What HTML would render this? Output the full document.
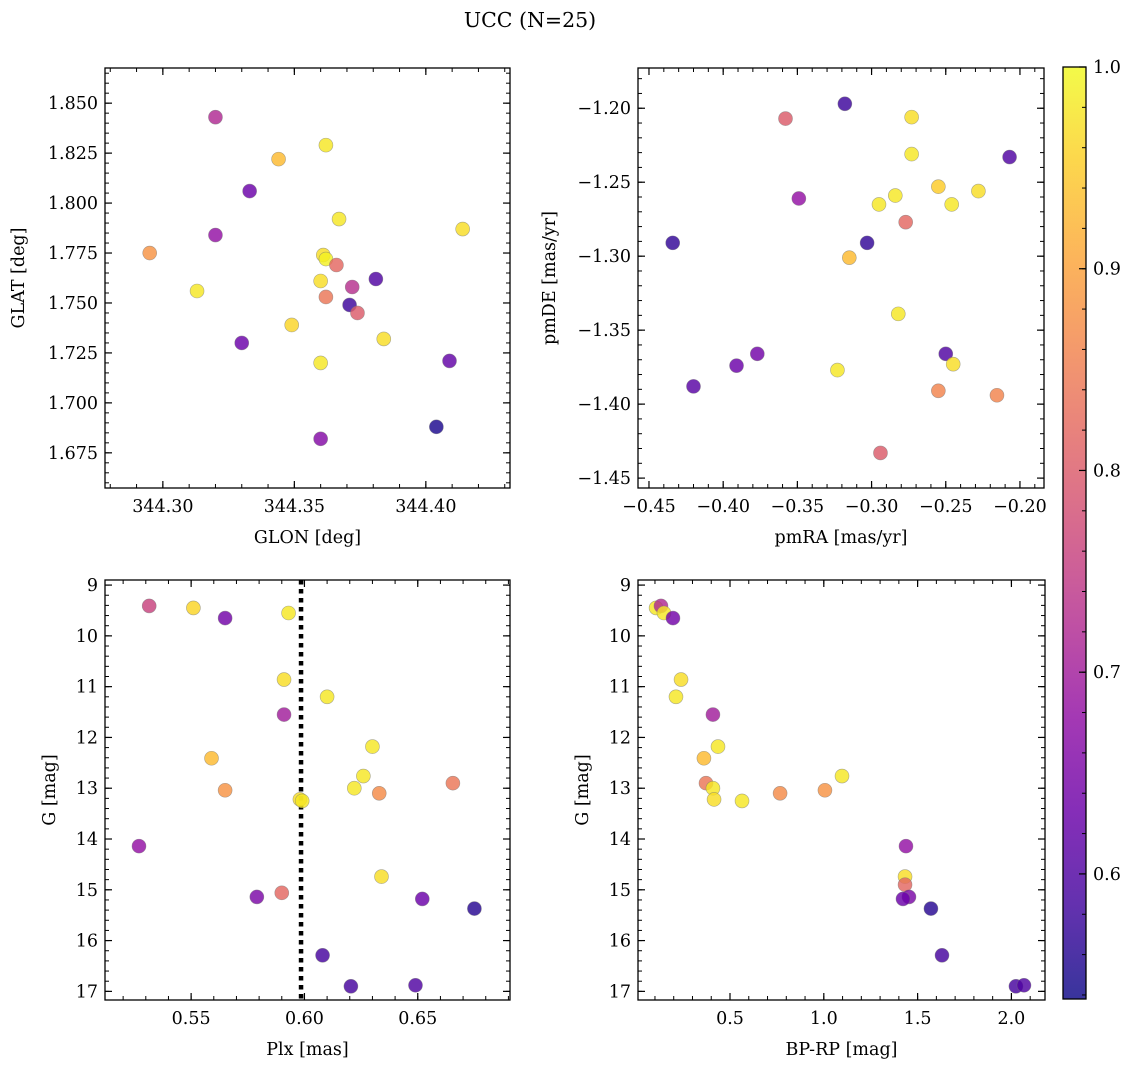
<!DOCTYPE html>
<html><head><meta charset="utf-8">
<style>
html,body{margin:0;padding:0;background:#fff;}
svg{display:block;font-family:"DejaVu Serif","Liberation Serif",serif;}
</style></head>
<body>
<svg id="fig" width="1136" height="1067" viewBox="0 0 1136 1067" xmlns="http://www.w3.org/2000/svg">
<text x="530" y="27" font-size="20.5" text-anchor="middle">UCC (N=25)</text>
</svg>
<script>
// ---- data ----
const glon = [344.320,344.344,344.362,344.333,344.320,344.367,344.414,344.295,344.361,344.362,344.366,344.313,344.360,344.381,344.362,344.372,344.371,344.374,344.349,344.384,344.330,344.409,344.360,344.404,344.360];
const glat = [1.843,1.822,1.829,1.806,1.784,1.792,1.787,1.775,1.774,1.772,1.769,1.756,1.761,1.762,1.753,1.758,1.749,1.745,1.739,1.732,1.730,1.721,1.720,1.688,1.682];
const prob1 = [0.72,0.93,0.98,0.63,0.68,0.98,0.97,0.88,0.97,0.99,0.82,0.98,0.97,0.60,0.84,0.73,0.58,0.80,0.96,0.97,0.63,0.62,0.98,0.55,0.66];

const pmra = [-0.318,-0.358,-0.273,-0.273,-0.207,-0.349,-0.284,-0.295,-0.255,-0.228,-0.246,-0.277,-0.434,-0.303,-0.315,-0.282,-0.250,-0.245,-0.377,-0.391,-0.323,-0.420,-0.255,-0.2155,-0.294];
const pmde = [-1.197,-1.207,-1.206,-1.231,-1.233,-1.261,-1.259,-1.265,-1.253,-1.256,-1.265,-1.277,-1.291,-1.291,-1.301,-1.339,-1.366,-1.373,-1.366,-1.374,-1.377,-1.388,-1.391,-1.394,-1.433];
const prob2 = [0.58,0.80,0.97,0.98,0.60,0.68,0.98,0.98,0.95,0.97,0.98,0.82,0.57,0.57,0.93,0.98,0.60,0.97,0.64,0.63,0.98,0.61,0.86,0.86,0.80];

const plx = [0.5315,0.551,0.565,0.593,0.591,0.610,0.591,0.630,0.559,0.626,0.6655,0.622,0.565,0.633,0.598,0.599,0.527,0.634,0.590,0.579,0.652,0.675,0.608,0.6205,0.649];
const gmag3 = [9.41,9.45,9.65,9.55,10.86,11.2,11.55,12.18,12.41,12.76,12.9,13.0,13.04,13.1,13.22,13.25,14.14,14.74,15.06,15.14,15.18,15.37,16.29,16.9,16.88];
const prob3 = [0.76,0.96,0.64,0.98,0.97,0.98,0.70,0.98,0.93,0.98,0.84,0.98,0.88,0.87,0.97,0.98,0.68,0.97,0.82,0.65,0.63,0.56,0.59,0.59,0.60];
const plxLine = [0.5985];

const bprp = [0.106,0.132,0.148,0.196,0.239,0.212,0.409,0.436,0.361,1.097,0.372,0.409,1.006,0.767,0.415,0.564,1.438,1.433,1.433,1.454,1.422,1.571,1.630,2.024,2.067];
const gmag4 = [9.45,9.41,9.55,9.65,10.86,11.2,11.55,12.18,12.41,12.76,12.9,13.0,13.04,13.1,13.22,13.25,14.14,14.74,14.9,15.14,15.18,15.37,16.29,16.9,16.88];
const prob4 = [0.98,0.72,0.98,0.64,0.97,0.98,0.70,0.98,0.93,0.98,0.84,0.98,0.88,0.87,0.97,0.98,0.68,0.97,0.82,0.65,0.63,0.56,0.59,0.59,0.60];

const tick1x = [344.30,344.35,344.40];
const tick1xLabels = ["344.30","344.35","344.40"];
const tick1y = [1.675,1.700,1.725,1.750,1.775,1.800,1.825,1.850];
const tick1yLabels = ["1.675","1.700","1.725","1.750","1.775","1.800","1.825","1.850"];
const tick2x = [-0.45,-0.40,-0.35,-0.30,-0.25,-0.20];
const tick2xLabels = ["\u22120.45","\u22120.40","\u22120.35","\u22120.30","\u22120.25","\u22120.20"];
const tick2y = [-1.45,-1.40,-1.35,-1.30,-1.25,-1.20];
const tick2yLabels = ["\u22121.45","\u22121.40","\u22121.35","\u22121.30","\u22121.25","\u22121.20"];
const tick3x = [0.55,0.60,0.65];
const tick3xLabels = ["0.55","0.60","0.65"];
const tickGy = [9,10,11,12,13,14,15,16,17];
const tickGyLabels = ["9","10","11","12","13","14","15","16","17"];
const tick4x = [0.5,1.0,1.5,2.0];
const tick4xLabels = ["0.5","1.0","1.5","2.0"];
const cbTicks = [0.6,0.7,0.8,0.9,1.0];
const cbTickLabels = ["0.6","0.7","0.8","0.9","1.0"];

// ---- rendering ----
const NS = "http://www.w3.org/2000/svg";
const svg = document.getElementById('fig');
const VMIN = 0.538, VMAX = 1.0;
const FS = 17.5;
const plasma = [[13,8,135],[65,4,157],[106,0,168],[143,13,164],[177,42,144],[204,71,120],[225,100,98],[242,132,75],[252,166,54],[252,206,37],[240,249,33]];
function cmap(v){
  let t = Math.max(0, Math.min(1, (v - VMIN) / (VMAX - VMIN))) * 10;
  const i = Math.min(9, Math.floor(t)); const f = t - i;
  const a = plasma[i], b = plasma[i+1];
  return 'rgb(' + [0,1,2].map(k => Math.round(a[k] + (b[k]-a[k])*f)).join(',') + ')';
}
function mk(tag, attrs, parent){
  const e = document.createElementNS(NS, tag);
  for (const k in attrs) e.setAttribute(k, attrs[k]);
  (parent || svg).appendChild(e);
  return e;
}
function panel(o){
  const g = mk('g', {});
  
  
  const sx = v => o.x0 + (v - o.xlim[0]) / (o.xlim[1] - o.xlim[0]) * (o.x1 - o.x0);
  const sy = v => o.y1 - (v - o.ylim[0]) / (o.ylim[1] - o.ylim[0]) * (o.y1 - o.y0);
  const eps = 1e-9;
  const mxs = Math.ceil(Math.min(o.xlim[0], o.xlim[1]) / o.xminor - eps);
  for (let k = mxs; k * o.xminor <= Math.max(o.xlim[0], o.xlim[1]) + eps; k++){
    const X = sx(k * o.xminor);
    mk('line', {x1:X, x2:X, y1:o.y1, y2:o.y1-4, stroke:'#000', 'stroke-width':1}, g);
    mk('line', {x1:X, x2:X, y1:o.y0, y2:o.y0+4, stroke:'#000', 'stroke-width':1}, g);
  }
  const ylo = Math.min(o.ylim[0], o.ylim[1]), yhi = Math.max(o.ylim[0], o.ylim[1]);
  for (let k = Math.ceil(ylo / o.yminor - eps); k * o.yminor <= yhi + eps; k++){
    const Y = sy(k * o.yminor);
    mk('line', {x1:o.x0, x2:o.x0+4, y1:Y, y2:Y, stroke:'#000', 'stroke-width':1}, g);
    mk('line', {x1:o.x1, x2:o.x1-4, y1:Y, y2:Y, stroke:'#000', 'stroke-width':1}, g);
  }
  o.xt.forEach((v, i) => {
    const X = sx(v);
    mk('line', {x1:X, x2:X, y1:o.y1, y2:o.y1-7, stroke:'#000', 'stroke-width':1.2}, g);
    mk('line', {x1:X, x2:X, y1:o.y0, y2:o.y0+7, stroke:'#000', 'stroke-width':1.2}, g);
    const t = mk('text', {x:X, y:o.y1+24, 'font-size':FS, 'text-anchor':'middle'}, g);
    
    
    t.textContent = o.xtl[i];
  });
  o.yt.forEach((v, i) => {
    const Y = sy(v);
    mk('line', {x1:o.x0, x2:o.x0+7, y1:Y, y2:Y, stroke:'#000', 'stroke-width':1.2}, g);
    mk('line', {x1:o.x1, x2:o.x1-7, y1:Y, y2:Y, stroke:'#000', 'stroke-width':1.2}, g);
    const t = mk('text', {x:o.x0-7, y:Y+6, 'font-size':FS, 'text-anchor':'end'}, g);
    
    
    t.textContent = o.ytl[i];
  });
  if (o.vline){
    o.vline.forEach(v => {
      const l = mk('line', {x1:sx(v), x2:sx(v), y1:o.y0, y2:o.y1, stroke:'#000', 'stroke-width':4.5, 'stroke-dasharray':'4.5 4.5'}, g);
      
      
    });
  }
  o.xs.forEach((v, i) => {
    const c = mk('circle', {cx:sx(v), cy:sy(o.ys[i]), r:7, fill:cmap(o.c[i]), 'fill-opacity':0.82, stroke:'#777', 'stroke-opacity':0.6, 'stroke-width':0.6}, g);
    
    
  });
  const fr = mk('rect', {x:o.x0, y:o.y0, width:o.x1-o.x0, height:o.y1-o.y0, fill:'none', stroke:'#000', 'stroke-width':1.3}, g);
  
  
  const xl = mk('text', {x:(o.x0+o.x1)/2, y:o.y1+55, 'font-size':FS, 'text-anchor':'middle'}, g);
  
  
  xl.textContent = o.xlabel;
  const ly = (o.y0+o.y1)/2;
  const yl = mk('text', {x:o.ylx, y:ly, 'font-size':FS, 'text-anchor':'middle', transform:'rotate(-90 '+o.ylx+' '+ly+')'}, g);
  
  
  yl.textContent = o.ylabel;
}
panel({name:'glon-glat-panel', x0:105, x1:510, y0:68, y1:488, xlim:[344.278,344.432], ylim:[1.6574,1.8676],
  xt:tick1x, xtl:tick1xLabels, yt:tick1y, ytl:tick1yLabels, xminor:0.01, yminor:0.005,
  xs:glon, ys:glat, c:prob1, xlabel:'GLON [deg]', ylabel:'GLAT [deg]', ylx:24});
panel({name:'pm-panel', x0:638, x1:1044, y0:68, y1:488, xlim:[-0.4574,-0.1838], ylim:[-1.4567,-1.1728],
  xt:tick2x, xtl:tick2xLabels, yt:tick2y, ytl:tick2yLabels, xminor:0.01, yminor:0.01,
  xs:pmra, ys:pmde, c:prob2, xlabel:'pmRA [mas/yr]', ylabel:'pmDE [mas/yr]', ylx:555});
panel({name:'plx-g-panel', x0:105, x1:510, y0:580, y1:1000, xlim:[0.512,0.6907], ylim:[17.17,8.90],
  xt:tick3x, xtl:tick3xLabels, yt:tickGy, ytl:tickGyLabels, xminor:0.01, yminor:0.2,
  xs:plx, ys:gmag3, c:prob3, xlabel:'Plx [mas]', ylabel:'G [mag]', ylx:55, vline:plxLine});
panel({name:'cmd-panel', x0:638, x1:1045, y0:580, y1:1000, xlim:[0.0096,2.179], ylim:[17.17,8.90],
  xt:tick4x, xtl:tick4xLabels, yt:tickGy, ytl:tickGyLabels, xminor:0.1, yminor:0.2,
  xs:bprp, ys:gmag4, c:prob4, xlabel:'BP-RP [mag]', ylabel:'G [mag]', ylx:588});

// colorbar
const cb = mk('g', {});


const CX0 = 1063, CX1 = 1086, CY0 = 67, CY1 = 999;
const cy = v => CY1 - (v - VMIN) / (VMAX - VMIN) * (CY1 - CY0);
const defs = mk('defs', {}, cb);
const grad = mk('linearGradient', {id:'cbg', x1:0, y1:1, x2:0, y2:0}, defs);
for (let i = 0; i <= 20; i++){
  const v = VMIN + (VMAX - VMIN) * i / 20;
  mk('stop', {offset:(i/20), 'stop-color':cmap(v), 'stop-opacity':0.82}, grad);
}
mk('rect', {x:CX0, y:CY0, width:CX1-CX0, height:CY1-CY0, fill:'url(#cbg)'}, cb);
for (let v = 0.54; v <= 1.0001; v += 0.02){
  const Y = cy(v);
  mk('line', {x1:CX1, x2:CX1-4, y1:Y, y2:Y, stroke:'#000', 'stroke-width':1}, cb);
}
cbTicks.forEach((v, i) => {
  const Y = cy(v);
  mk('line', {x1:CX1, x2:CX1-7, y1:Y, y2:Y, stroke:'#000', 'stroke-width':1.2}, cb);
  const t = mk('text', {x:CX1+7, y:Y+6, 'font-size':FS, }, cb);
  
  
  t.textContent = cbTickLabels[i];
});
mk('rect', {x:CX0, y:CY0, width:CX1-CX0, height:CY1-CY0, fill:'none', stroke:'#000', 'stroke-width':1.3}, cb);
</script>
</body></html>
